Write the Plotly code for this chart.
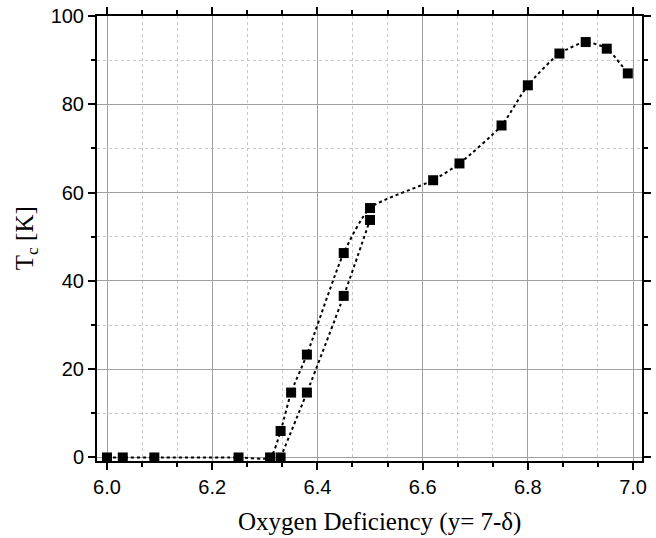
import plotly.graph_objects as go

# Upper branch (main curve)
x_upper = [6.00, 6.03, 6.09, 6.25, 6.31, 6.33, 6.35, 6.38, 6.45, 6.50, 6.62, 6.67, 6.75, 6.80, 6.86, 6.91, 6.95, 6.99]
y_upper = [0, 0, 0, 0, 0, 6.0, 14.7, 23.3, 46.3, 56.5, 62.8, 66.6, 75.2, 84.3, 91.5, 94.1, 92.6, 87.0]
# Lower branch
x_lower = [6.33, 6.38, 6.45, 6.50]
y_lower = [0, 14.7, 36.6, 53.8]

x_ticks = [6.0, 6.2, 6.4, 6.6, 6.8, 7.0]
x_ticklabels = ["6.0", "6.2", "6.4", "6.6", "6.8", "7.0"]
y_ticks = [0, 20, 40, 60, 80, 100]

x_title = "Oxygen Deficiency (y= 7-δ)"
y_title = "T<sub>c</sub> [K]"

fig = go.Figure()
for xs, ys in [(x_upper, y_upper), (x_lower, y_lower)]:
    fig.add_trace(go.Scatter(
        x=xs, y=ys, mode="lines+markers",
        line=dict(color="black", width=2, dash="dot", shape="spline", smoothing=0.6),
        marker=dict(symbol="square", size=10, color="black"),
        showlegend=False, cliponaxis=False,
    ))

axis_common = dict(
    showline=True, linecolor="black", linewidth=2, mirror="allticks",
    ticks="outside", ticklen=7, tickwidth=1.5, tickcolor="black",
    showgrid=True, gridcolor="#a0a0a0", gridwidth=1.3,
    zeroline=False,
    tickfont=dict(family="Liberation Sans, Arial, sans-serif", size=20, color="black"),
)

fig.update_xaxes(
    **axis_common,
    range=[5.981, 7.017],
    tickvals=x_ticks, ticktext=x_ticklabels,
    minor=dict(dtick=0.2/3, tick0=6.0, ticks="outside", ticklen=4, tickcolor="black",
               showgrid=True, gridcolor="#c8c8c8", griddash="dot", gridwidth=1),
)
fig.update_yaxes(
    **axis_common,
    range=[-0.8, 100],
    tickvals=y_ticks,
    minor=dict(dtick=10, tick0=0, ticks="outside", ticklen=4, tickcolor="black",
               showgrid=True, gridcolor="#c8c8c8", griddash="dot", gridwidth=1),
)

title_font = dict(family="Liberation Serif, Times New Roman, serif", size=25, color="black")
fig.add_annotation(text=x_title, xref="paper", yref="paper", x=0.518, y=-0.137,
                   xanchor="center", yanchor="middle", showarrow=False, font=title_font)
fig.add_annotation(text=y_title, xref="paper", yref="paper", x=-0.129, y=0.5,
                   xanchor="center", yanchor="middle", showarrow=False, textangle=-90,
                   font=title_font)

fig.update_layout(
    width=656, height=538,
    margin=dict(l=97, r=5, t=15, b=77),
    plot_bgcolor="white", paper_bgcolor="white",
)

fig.write_html("out.html")
